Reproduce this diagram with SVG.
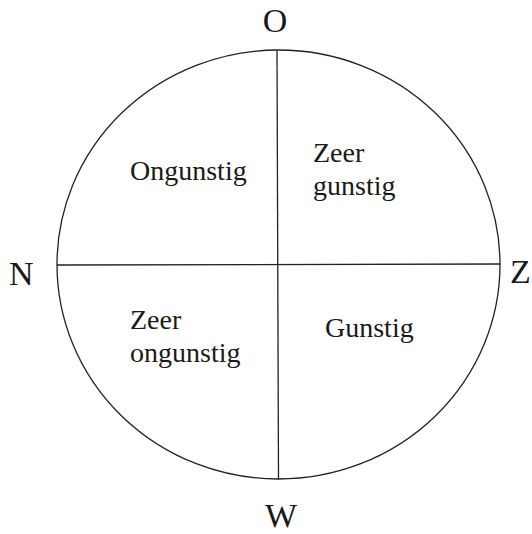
<svg xmlns="http://www.w3.org/2000/svg" width="532" height="534" viewBox="0 0 532 534">
<style>
.ln{fill:none;stroke:#222;stroke-width:1.3}
.lbl{font-family:"Liberation Serif","Times New Roman",serif;font-size:28px;fill:#1a1a1a}
.dir{font-family:"Liberation Serif","Times New Roman",serif;font-size:34px;fill:#1a1a1a}
</style>
<rect width="532" height="534" fill="#fff"/>
<g id="connectors">
<ellipse class="ln" cx="278.5" cy="264.5" rx="221.5" ry="214.5"/>
<line class="ln" x1="277" y1="50" x2="278.5" y2="479"/>
<line class="ln" x1="57" y1="265" x2="500" y2="264"/>
</g>
<g id="dir-O"><text class="dir" x="275" y="32" text-anchor="middle">O</text></g>
<g id="dir-N"><text class="dir" x="9" y="285">N</text></g>
<g id="dir-Z"><text class="dir" x="510" y="283">Z</text></g>
<g id="dir-W"><text class="dir" x="281" y="527" text-anchor="middle">W</text></g>
<g id="q-ongunstig"><text class="lbl" x="130" y="180">Ongunstig</text></g>
<g id="q-zeer-gunstig"><text class="lbl" x="313" y="162">Zeer</text><text class="lbl" x="313" y="195">gunstig</text></g>
<g id="q-zeer-ongunstig"><text class="lbl" x="130" y="329">Zeer</text><text class="lbl" x="130" y="362">ongunstig</text></g>
<g id="q-gunstig"><text class="lbl" x="325" y="337">Gunstig</text></g>
</svg>
